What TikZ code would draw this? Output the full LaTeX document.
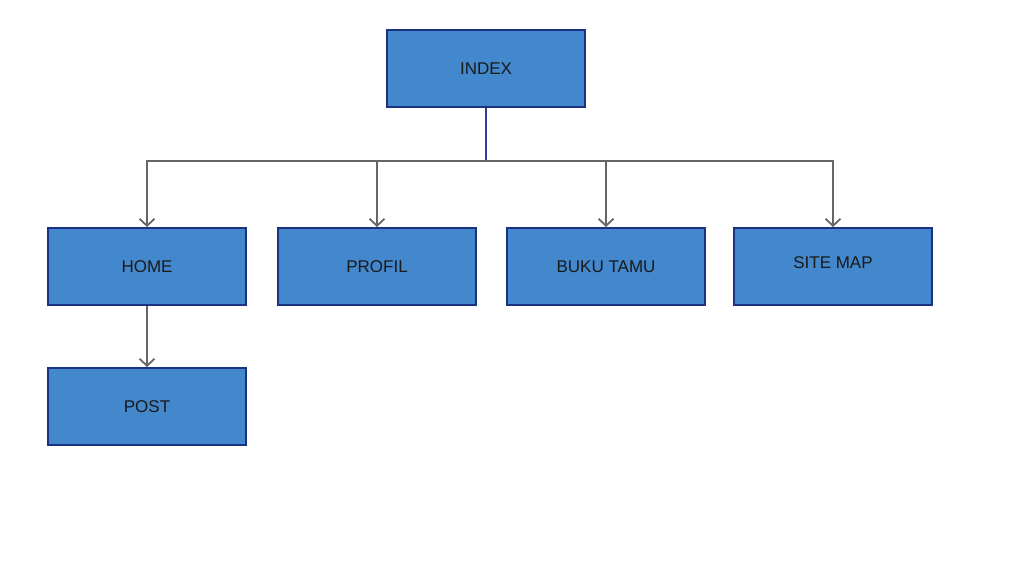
\documentclass[tikz,border=0pt]{standalone}
\usepackage{fontspec}
\setmainfont{Liberation Sans}
\usetikzlibrary{arrows.meta}
\definecolor{boxfill}{HTML}{4387CC}
\definecolor{boxline}{HTML}{1B3282}
\definecolor{conngrey}{HTML}{666666}
\definecolor{txt}{HTML}{1A1A1A}
\definecolor{stem}{HTML}{2C3F8E}
\tikzset{
  pagebox/.style={draw=boxline, fill=boxfill, line width=2pt, minimum width=198pt, minimum height=77pt, inner sep=0pt,
    font=\fontsize{17}{20}\selectfont, text=txt},
  conn/.style={draw=conngrey, line width=2pt, -{Straight Barb[length=7pt,width=15pt,line width=1.8pt]}},
}
\begin{document}
\begin{tikzpicture}[x=1pt,y=-1pt]
\useasboundingbox (0,0) rectangle (1030,574);
\node[pagebox] (index) at (486,68.5) {INDEX};
\node[pagebox] (home) at (147,266.5) {HOME};
\node[pagebox] (profil) at (377,266.5) {PROFIL};
\node[pagebox] (buku) at (606,266.5) {BUKU TAMU};
\node[pagebox] (site) at (833,266.5) {\raisebox{8pt}{SITE MAP}};
\node[pagebox] (post) at (147,406.5) {POST};
\coordinate (j) at (486,161);
\draw[draw=stem, line width=1.6pt] (index.south) -- (j);
\draw[conn] (j) -| (home.north);
\draw[conn] (j) -| (profil.north);
\draw[conn] (j) -| (buku.north);
\draw[conn] (j) -| (site.north);
\draw[conn] (home.south) -- (post.north);
\end{tikzpicture}
\end{document}
